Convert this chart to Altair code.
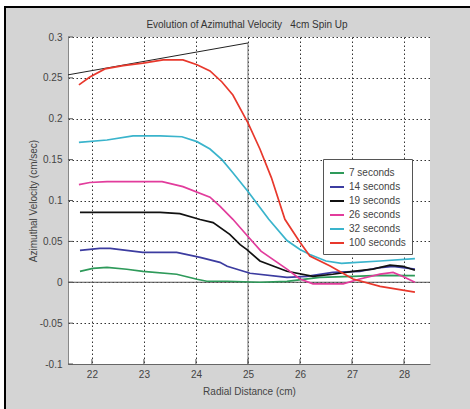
import altair as alt
import pandas as pd

TITLE = "Evolution of Azimuthal Velocity\u00a0\u00a0\u00a04cm Spin Up"
X_TITLE = "Radial Distance (cm)"
Y_TITLE = "Azimuthal Velocity (cm/sec)"

series_names = ["7 seconds", "14 seconds", "19 seconds", "26 seconds", "32 seconds", "100 seconds"]
series_colors = ["#2e9a5a", "#3c3ca0", "#111111", "#e23c9c", "#3ab4cc", "#e8382c"]

x7 = [21.77, 22.02, 22.29, 22.67, 22.98, 23.63, 24.02, 24.21, 24.6, 25.23, 25.75, 26.38, 27.02, 27.54, 28.21]
y7 = [0.0134, 0.017, 0.0183, 0.0159, 0.0134, 0.0098, 0.0037, 0.0012, 0.0012, 0.0, 0.001, 0.006, 0.0073, 0.0085, 0.008]

x14 = [21.77, 22.15, 22.35, 22.98, 23.63, 24.08, 24.46, 24.6, 25.04, 25.75, 26.13, 26.63, 27.15, 27.54, 27.79, 28.21]
y14 = [0.039, 0.0415, 0.0415, 0.0366, 0.0366, 0.0305, 0.0244, 0.0195, 0.011, 0.006, 0.0073, 0.012, 0.0134, 0.018, 0.0195, 0.016]

x19 = [21.77, 22.02, 23.31, 23.69, 24.08, 24.33, 24.65, 24.85, 24.98, 25.23, 25.75, 26.25, 26.63, 27.02, 27.40, 27.73, 27.98, 28.21]
y19 = [0.0854, 0.0854, 0.0854, 0.084, 0.0768, 0.073, 0.0585, 0.046, 0.040, 0.026, 0.0134, 0.0073, 0.0098, 0.0134, 0.016, 0.021, 0.0195, 0.0146]

x26 = [21.75, 21.96, 22.29, 22.98, 23.35, 23.75, 24.27, 24.46, 24.71, 25.0, 25.25, 25.75, 26.0, 26.25, 26.83, 27.15, 27.54, 27.79, 27.98, 28.21]
y26 = [0.1195, 0.122, 0.123, 0.123, 0.123, 0.117, 0.104, 0.093, 0.077, 0.056, 0.038, 0.016, 0.004, -0.002, -0.002, 0.004, 0.010, 0.012, 0.007, 0.000]

x32 = [21.75, 22.29, 22.79, 23.31, 23.73, 24.02, 24.27, 24.5, 24.71, 25.0, 25.4, 25.75, 26.0, 26.19, 26.5, 26.8, 27.02, 27.54, 28.21]
y32 = [0.171, 0.174, 0.179, 0.179, 0.178, 0.172, 0.163, 0.150, 0.134, 0.111, 0.077, 0.051, 0.040, 0.034, 0.026, 0.023, 0.024, 0.026, 0.029]

x100 = [21.75, 21.96, 22.25, 22.6, 22.98, 23.37, 23.75, 24.02, 24.27, 24.5, 24.71, 25.0, 25.23, 25.45, 25.71, 26.0, 26.19, 26.58, 27.02, 27.54, 28.21]
y100 = [0.2415, 0.251, 0.261, 0.265, 0.268, 0.272, 0.272, 0.266, 0.2585, 0.245, 0.229, 0.195, 0.163, 0.128, 0.077, 0.049, 0.032, 0.020, 0.004, -0.005, -0.012]

tangent_x = [21.54, 25.0]
tangent_y = [0.2537, 0.2927]
vline_x = [25.0]
vline_top = [0.2927]

x_ticks = [22, 23, 24, 25, 26, 27, 28]
y_ticks = [-0.1, -0.05, 0, 0.05, 0.1, 0.15, 0.2, 0.25, 0.3]
x_domain = [21.54, 28.5]
y_domain = [-0.1, 0.3]

FONT = "Liberation Sans"
W, H = 362, 327
PL, PT, PR, PB = 68, 37, 40, 45

all_x = [x7, x14, x19, x26, x32, x100]
all_y = [y7, y14, y19, y26, y32, y100]
rows = []
for name, xs, ys in zip(series_names, all_x, all_y):
    for i, (a, b) in enumerate(zip(xs, ys)):
        rows.append({"series": name, "x": a, "y": b, "i": i})
df = pd.DataFrame(rows)

xs_scale = alt.Scale(domain=x_domain, nice=False, zero=False)
ys_scale = alt.Scale(domain=y_domain, nice=False, zero=False)

x_axis = alt.Axis(
    values=x_ticks, title=X_TITLE, grid=True, ticks=False,
    gridDash=[1.5, 2.5], gridColor="#333333", gridOpacity=1,
    domainColor="#666666", labelFontSize=10, labelColor="#444444",
    labelPadding=5, titleFontSize=10, titleFontWeight="normal",
    titleColor="#444444", titlePadding=7)
y_axis = alt.Axis(
    values=y_ticks, title=Y_TITLE, grid=True, ticks=False,
    labelExpr="'' + datum.value",
    gridDash=[1.5, 2.5], gridColor="#333333", gridOpacity=1,
    domainColor="#888888", labelFontSize=10, labelColor="#444444",
    labelPadding=6, titleFontSize=10, titleFontWeight="normal",
    titleColor="#444444", titlePadding=1)

X = lambda f: alt.X(f, scale=xs_scale, axis=x_axis)
Y = lambda f: alt.Y(f, scale=ys_scale, axis=y_axis)

one = pd.DataFrame({"a": [0]})

# frame: white strips and black border lines outside the plot
frame_top = alt.Chart(one).mark_rect(color="white").encode(
    x=alt.value(-PL), x2=alt.value(W + PR), y=alt.value(-PT), y2=alt.value(-PT + 6))
frame_left = alt.Chart(one).mark_rect(color="white").encode(
    x=alt.value(-PL), x2=alt.value(-PL + 4), y=alt.value(-PT), y2=alt.value(H + PB))
line_top = alt.Chart(one).mark_rule(color="black", strokeWidth=2).encode(
    x=alt.value(-PL + 4), x2=alt.value(W + PR), y=alt.value(-PT + 7))
line_left = alt.Chart(one).mark_rule(color="black", strokeWidth=2).encode(
    x=alt.value(-PL + 5), y=alt.value(-PT + 6), y2=alt.value(H + PB))

title_df = pd.DataFrame({"t": [TITLE]})
title = alt.Chart(title_df).mark_text(fontSize=10, color="#333333", font=FONT,
                                      align="center", baseline="middle").encode(
    text="t:N", x=alt.value(W / 2 - 2), y=alt.value(-12))

zero_df = pd.DataFrame({"y": [0.0]})
zero_line = alt.Chart(zero_df).mark_rule(color="#555555", strokeWidth=1).encode(y=Y("y:Q"))

v_df = pd.DataFrame({"x": vline_x, "y": vline_top, "y2": [y_domain[0]]})
v_line = alt.Chart(v_df).mark_rule(color="#777777", strokeWidth=1).encode(
    x=X("x:Q"), y=Y("y:Q"), y2="y2:Q")

t_df = pd.DataFrame({"x": tangent_x, "y": tangent_y})
tangent = alt.Chart(t_df).mark_line(color="#222222", strokeWidth=1).encode(
    x=X("x:Q"), y=Y("y:Q"))

xt_df = pd.DataFrame({"x": x_ticks})
xticks = alt.Chart(xt_df).mark_rule(color="#555555", strokeWidth=1).encode(
    x=X("x:Q"), y=alt.value(H), y2=alt.value(H - 5))
yt_df = pd.DataFrame({"y": y_ticks})
yticks = alt.Chart(yt_df).mark_rule(color="#555555", strokeWidth=1).encode(
    y=Y("y:Q"), x=alt.value(0), x2=alt.value(5))

lines = alt.Chart(df).mark_line(strokeWidth=1.7).encode(
    x=X("x:Q"),
    y=Y("y:Q"),
    color=alt.Color("series:N", scale=alt.Scale(domain=series_names, range=series_colors),
                    legend=alt.Legend(orient="none", legendX=255, legendY=122, title=None,
                                      symbolType="stroke", symbolStrokeWidth=2, symbolSize=196,
                                      labelFontSize=10, labelColor="#444444", rowPadding=1,
                                      padding=6, strokeColor="#555555", fillColor="white",
                                      cornerRadius=0, labelFont=FONT)),
    order=alt.Order("i:Q"),
)

chart = alt.layer(
    frame_top, frame_left, line_top, line_left, title,
    zero_line, v_line, tangent, xticks, yticks, lines
).properties(
    width=W, height=H,
    autosize=alt.AutoSizeParams(type="none"),
    padding={"left": PL, "top": PT, "right": PR, "bottom": PB},
    background="#d4d4d4",
).configure(font=FONT).configure_view(fill="white", strokeWidth=0)

chart.save("out.html", embed_options={"renderer": "svg", "actions": False})
